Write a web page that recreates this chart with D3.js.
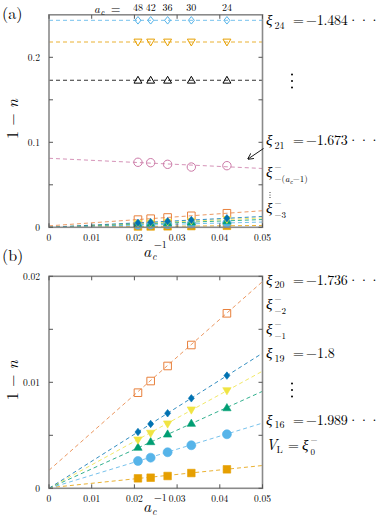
<!DOCTYPE html>
<html>
<head>
<meta charset="utf-8">
<script src="https://cdn.jsdelivr.net/npm/d3@7"></script>
<style>
  body { margin: 0; background: #fff; }
  svg text { font-family: "Latin Modern Roman", "CMU Serif", "Liberation Serif", serif; fill: #000; }
</style>
</head>
<body>
<script>
// system sizes a_c and measured 1 - n values
var acValues = [48, 42, 36, 30, 24];

// panel (a): flat levels and the xi_21 branch
var xi24Vals = [0.2435, 0.2435, 0.2435, 0.2435, 0.2435];
var xi23Vals = [0.218, 0.218, 0.218, 0.218, 0.218];
var xi22Vals = [0.173, 0.173, 0.173, 0.173, 0.173];
var xi21Vals = [0.0765, 0.0760, 0.0741, 0.0709, 0.0725];

// panel (b): small-gap branches (also drawn in (a))
var xiM2Vals = [0.00902, 0.01012, 0.01154, 0.01352, 0.01651];
var xi19Vals = [0.00531, 0.00607, 0.00708, 0.00849, 0.01063];
var xi18Vals = [0.00456, 0.00519, 0.00607, 0.00739, 0.00921];
var xi17Vals = [0.00387, 0.00440, 0.00512, 0.00613, 0.00760];
var xi16Vals = [0.00258, 0.00289, 0.00340, 0.00406, 0.00510];
var xi0Vals  = [0.00094, 0.00100, 0.00116, 0.00144, 0.00179];

// linear fits: [intercept, slope]
var fitXi24 = [0.2435, 0], fitXi23 = [0.218, 0], fitXi22 = [0.173, 0];
var fitXi21 = [0.0812, -0.24];
var fitXiM2 = [0.0017, 0.356];
var fitXi19 = [0, 0.255];
var fitXi18 = [0, 0.221];
var fitXi17 = [0, 0.183];
var fitXi16 = [0, 0.123];
var fitXi0  = [0.00005, 0.042];

var xTicks = [0, 0.01, 0.02, 0.03, 0.04, 0.05];
var xTickLabels = ["0", "0.01", "0.02", "0.03", "0.04", "0.05"];
var yTicksA = [0, 0.05, 0.1, 0.15, 0.2], yLabelsA = [0, 0.1, 0.2];
var yTicksB = [0, 0.005, 0.01, 0.015, 0.02], yLabelsB = [0, 0.01, 0.02];

var svg = d3.select("body").append("svg")
  .attr("width", 382).attr("height", 522);

var x = d3.scaleLinear().domain([0, 0.05]).range([49, 262.5]);
var yA = d3.scaleLinear().domain([0, 0.25]).range([227.3, 14.8]);
var yB = d3.scaleLinear().domain([0, 0.02]).range([488.3, 276.3]);

var series = [
  {vals: xiM2Vals, fit: fitXiM2, color: "#E8803C", sym: "square", open: true},
  {vals: xi0Vals,  fit: fitXi0,  color: "#E69F00", sym: "square", open: false},
  {vals: xi16Vals, fit: fitXi16, color: "#56B4E9", sym: "circle", open: false},
  {vals: xi17Vals, fit: fitXi17, color: "#009E73", sym: "tri", open: false},
  {vals: xi18Vals, fit: fitXi18, color: "#F0E442", sym: "tridown", open: false},
  {vals: xi19Vals, fit: fitXi19, color: "#0072B2", sym: "diamond", open: false}
];
var seriesTop = [
  {vals: xi24Vals, fit: fitXi24, color: "#56B4E9", sym: "diamond", open: true},
  {vals: xi23Vals, fit: fitXi23, color: "#E69F00", sym: "tridown", open: true},
  {vals: xi22Vals, fit: fitXi22, color: "#000000", sym: "tri", open: true},
  {vals: xi21Vals, fit: fitXi21, color: "#CC79A7", sym: "circle", open: true}
];

function symPath(sym, s) {
  if (sym == "square") return "M" + (-s) + "," + (-s) + "h" + 2*s + "v" + 2*s + "h" + (-2*s) + "Z";
  if (sym == "diamond") return "M0," + (-s*1.25) + "L" + s + ",0L0," + (s*1.25) + "L" + (-s) + ",0Z";
  if (sym == "tri") return "M0," + (-s*1.1) + "L" + (s*1.1) + "," + (s*0.8) + "L" + (-s*1.1) + "," + (s*0.8) + "Z";
  if (sym == "tridown") return "M0," + (s*1.1) + "L" + (s*1.1) + "," + (-s*0.8) + "L" + (-s*1.1) + "," + (-s*0.8) + "Z";
  return "M" + s + ",0A" + s + "," + s + " 0 1,1 " + (-s) + ",0A" + s + "," + s + " 0 1,1 " + s + ",0Z";
}

// off: baseline offsets below the plot for tick labels and the a_c^{-1} pieces
function drawPanel(y, yTicks, yLabels, list, sizes, off) {
  var g = svg.append("g");
  var x0 = x.range()[0], x1 = x.range()[1], yb = y.range()[0], yt = y.range()[1];

  list.forEach(function(s) {
    var f = s.fit;
    g.append("line")
      .attr("x1", x(0)).attr("y1", y(f[0]))
      .attr("x2", x(0.05)).attr("y2", y(f[0] + f[1] * 0.05))
      .attr("stroke", s.color).attr("stroke-width", 1)
      .attr("stroke-dasharray", "4,3").attr("opacity", 0.8);
  });

  list.forEach(function(s) {
    var sz = sizes[s.sym];
    g.selectAll(null).data(s.vals).enter().append("path")
      .attr("transform", function(d, i) { return "translate(" + x(1 / acValues[i]) + "," + y(d) + ")"; })
      .attr("d", symPath(s.sym, sz))
      .attr("fill", s.open ? "none" : s.color)
      .attr("stroke", s.color)
      .attr("stroke-width", s.open ? 1 : 0.6);
  });

  // frame
  g.append("rect").attr("x", x0).attr("y", yt).attr("width", x1 - x0).attr("height", yb - yt)
    .attr("fill", "none").attr("stroke", "#8a8a8a").attr("stroke-width", 1.6);

  xTicks.forEach(function(t, i) {
    g.append("line").attr("x1", x(t)).attr("x2", x(t)).attr("y1", yb).attr("y2", yb - 4)
      .attr("stroke", "#555").attr("stroke-width", 1);
    g.append("line").attr("x1", x(t)).attr("x2", x(t)).attr("y1", yt).attr("y2", yt + 4)
      .attr("stroke", "#555").attr("stroke-width", 1);
    g.append("text").attr("x", x(t)).attr("y", yb + off.tick).attr("text-anchor", "middle")
      .attr("font-size", 9.5).text(xTickLabels[i]);
  });
  yTicks.forEach(function(t) {
    g.append("line").attr("x1", x0).attr("x2", x0 + 4).attr("y1", y(t)).attr("y2", y(t))
      .attr("stroke", "#555").attr("stroke-width", 1);
    g.append("line").attr("x1", x1).attr("x2", x1 - 4).attr("y1", y(t)).attr("y2", y(t))
      .attr("stroke", "#555").attr("stroke-width", 1);
  });
  yLabels.forEach(function(t) {
    g.append("text").attr("x", 40).attr("y", y(t) + 3.5).attr("text-anchor", "end")
      .attr("font-size", 9.5).text(t);
  });

  // axis titles: a_c^{-1} built from separate pieces
  g.append("text").attr("x", 143).attr("y", yb + off.a).attr("font-size", 16)
    .attr("font-style", "italic").text("a");
  g.append("text").attr("x", 152).attr("y", yb + off.c).attr("font-size", 10)
    .attr("font-style", "italic").text("c");
  g.append("text").attr("x", 154).attr("y", yb + off.sup).attr("font-size", 10).text("\u22121");

  var mid = (yb + yt) / 2 - 2;
  var yl = g.append("text").attr("transform", "translate(18," + mid + ") rotate(-90)")
    .attr("text-anchor", "middle").attr("font-size", 16);
  yl.append("tspan").text("1 \u2212 ");
  yl.append("tspan").attr("font-style", "italic").text("n");
}

drawPanel(yA, yTicksA, yLabelsA, series.concat(seriesTop),
  {square: 3.8, circle: 4.2, tri: 3.6, tridown: 3.6, diamond: 3},
  {tick: 13.5, sup: 20.5, a: 29.5, c: 33});
drawPanel(yB, yTicksB, yLabelsB, series,
  {square: 3.8, circle: 4.5, tri: 3.8, tridown: 3.8, diamond: 3},
  {tick: 14, sup: 12.5, a: 23.5, c: 27});

// panel tags
svg.append("text").attr("x", 2).attr("y", 19).attr("font-size", 16).text("(a)");
svg.append("text").attr("x", 2).attr("y", 261).attr("font-size", 16).text("(b)");

// top axis: a_c values
svg.append("text").attr("x", 94).attr("y", 12.5).attr("font-size", 11.5)
  .attr("font-style", "italic").text("a");
svg.append("text").attr("x", 100.5).attr("y", 15).attr("font-size", 8.5)
  .attr("font-style", "italic").text("c");
svg.append("text").attr("x", 111).attr("y", 12.5).attr("font-size", 12).text("=");
acValues.forEach(function(a) {
  svg.append("text").attr("x", x(1 / a)).attr("y", 11).attr("text-anchor", "middle")
    .attr("font-size", 10).text(a);
});

// right-hand labels
function xiLabel(yb, sub, rest, len) {
  svg.append("text").attr("x", 266).attr("y", yb).attr("font-size", 15)
    .attr("font-style", "italic").text("\u03BE");
  svg.append("text").attr("x", 274.5).attr("y", yb + 3.5).attr("font-size", 10).text(sub);
  svg.append("text").attr("x", 293).attr("y", yb).attr("font-size", 14).text("=");
  var t = svg.append("text").attr("x", 306).attr("y", yb).attr("font-size", 14).text(rest);
  if (len) t.attr("textLength", len).attr("lengthAdjust", "spacing");
}
function xiMinus(yb, xs) {
  svg.append("text").attr("x", xs).attr("y", yb).attr("font-size", 15)
    .attr("font-style", "italic").text("\u03BE");
  svg.append("text").attr("x", xs + 8.5).attr("y", yb - 7).attr("font-size", 9).text("\u2212");
  return svg.append("text").attr("x", xs + 8.5).attr("y", yb + 5).attr("font-size", 9);
}
function vdots(xc, yc, gap, r) {
  [-1, 0, 1].forEach(function(k) {
    svg.append("circle").attr("cx", xc).attr("cy", yc + k * gap).attr("r", r).attr("fill", "#000");
  });
}

xiLabel(25, "24", "\u22121.484\u00B7\u00B7\u00B7", 74);
vdots(292, 81, 6.5, 1);
xiLabel(145, "21", "\u22121.673\u00B7\u00B7\u00B7", 74);
var s1 = xiMinus(177, 266);
s1.append("tspan").text("\u2212(");
s1.append("tspan").attr("font-style", "italic").text("a");
s1.append("tspan").attr("font-size", 6.5).attr("font-style", "italic").attr("dy", 2).text("c");
s1.append("tspan").attr("dy", -2).text("\u22121)");
vdots(270, 195, 2.5, 0.5);
xiMinus(213, 266).text("\u22123");

xiLabel(284.5, "20", "\u22121.736\u00B7\u00B7\u00B7", 74);
xiMinus(309, 266).text("\u22122");
xiMinus(334, 266).text("\u22121");
xiLabel(358, "19", "\u22121.8", 0);
vdots(292, 390, 6.5, 1);
xiLabel(424.5, "16", "\u22121.989\u00B7\u00B7\u00B7", 74);
svg.append("text").attr("x", 266).attr("y", 449.5).attr("font-size", 15)
  .attr("font-style", "italic").text("V");
svg.append("text").attr("x", 276.5).attr("y", 453).attr("font-size", 10).text("L");
svg.append("text").attr("x", 288).attr("y", 449.5).attr("font-size", 14).text("=");
xiMinus(449.5, 302).text("0");

// arrow pointing from xi_21 label to its branch
svg.append("defs").append("marker").attr("id", "ah")
  .attr("viewBox", "0 0 10 10").attr("refX", 9).attr("refY", 5)
  .attr("markerWidth", 7).attr("markerHeight", 7).attr("orient", "auto")
  .append("path").attr("d", "M0,0L10,5L0,10").attr("fill", "none").attr("stroke", "#000").attr("stroke-width", 1.3);
svg.append("line").attr("x1", 263.5).attr("y1", 148.5).attr("x2", 248).attr("y2", 159)
  .attr("stroke", "#000").attr("stroke-width", 0.9).attr("marker-end", "url(#ah)");
</script>
</body>
</html>
